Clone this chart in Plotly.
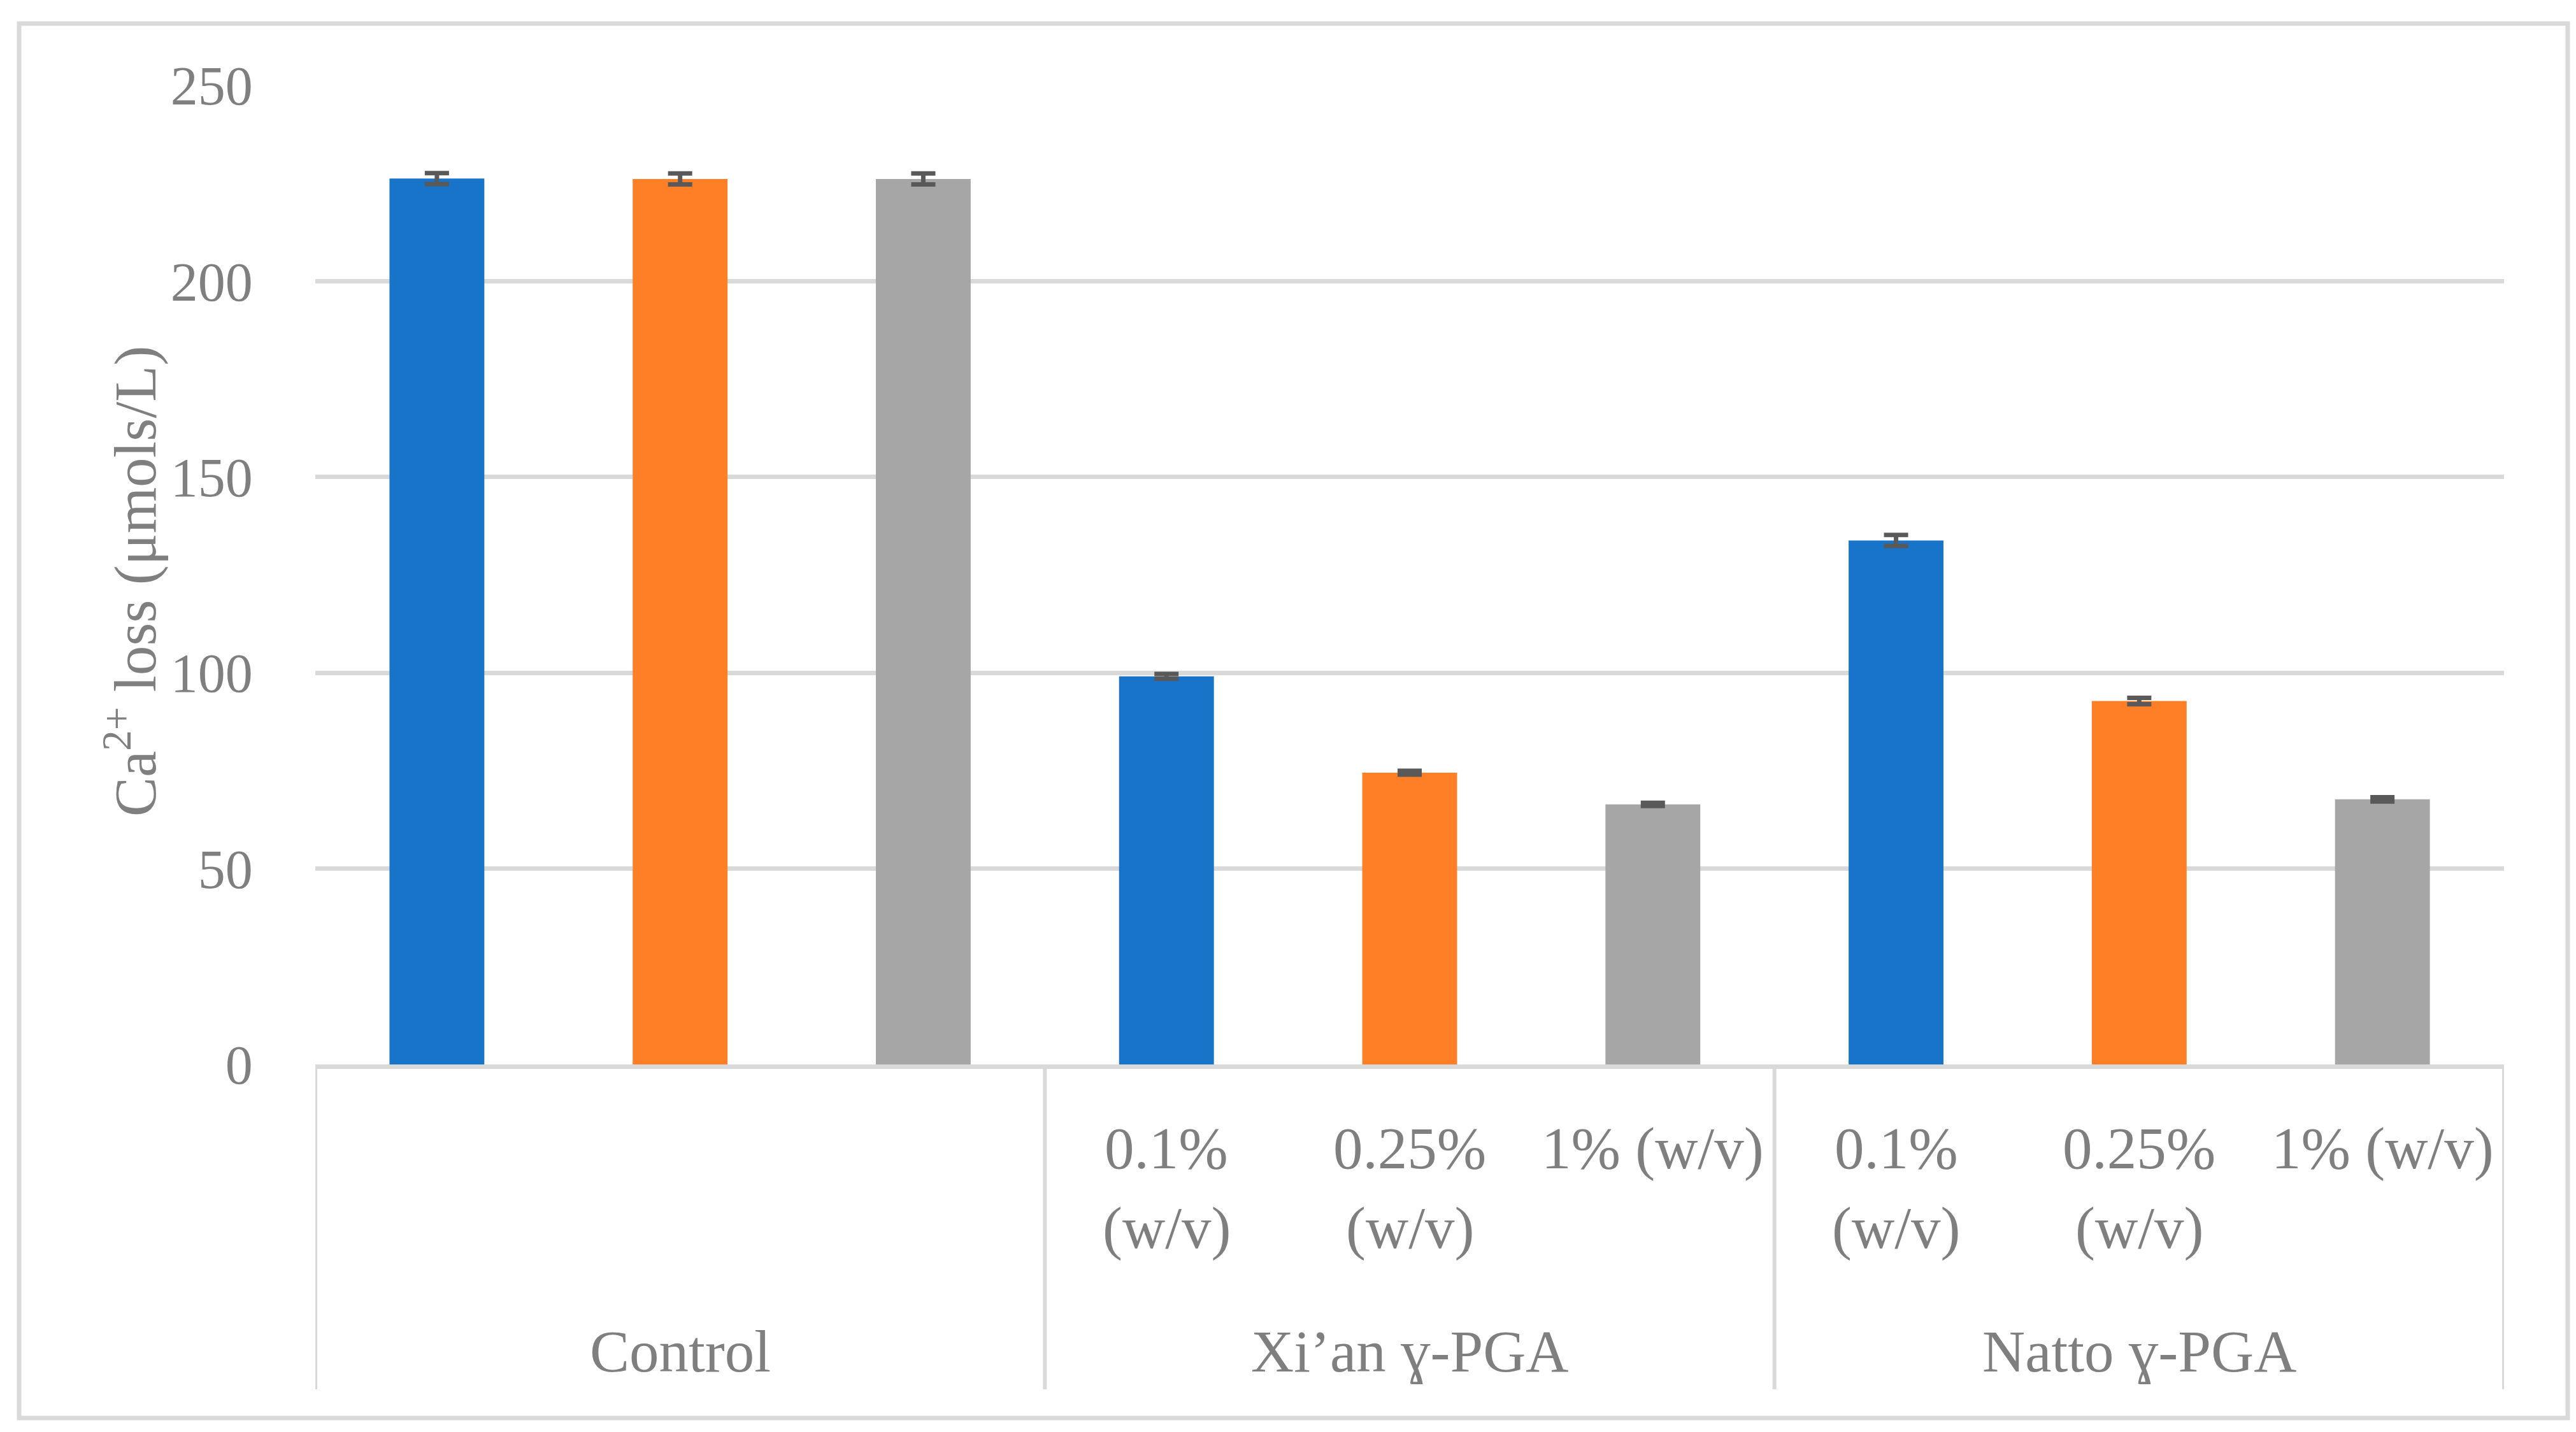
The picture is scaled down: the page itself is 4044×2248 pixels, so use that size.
import plotly.graph_objects as go

# ---- data ----
groups = ["Control", "Xi’an ɣ-PGA", "Natto ɣ-PGA"]
sub_line1 = ["0.1%", "0.25%", "1% (w/v)"]
sub_line2 = ["(w/v)", "(w/v)", ""]
blue_vals = [226.2, 99.1, 133.8]
orange_vals = [226.1, 74.5, 92.8]
gray_vals = [226.1, 66.4, 67.7]
blue_err = [1.4, 0.6, 1.4]
orange_err = [1.4, 0.5, 0.8]
gray_err = [1.4, 0.4, 0.55]
y_ticks = [0, 50, 100, 150, 200, 250]

# ---- layout geometry (pixels) ----
W, H = 4044, 2248
L, R, T, B = 487, 3923, 126, 1663
PW, PH = R - L, B - T

def px(xp):
    return (xp - L) / PW

def py(yp):
    return (B - yp) / PH

FONT = "Liberation Serif"
TXT = "#7F7F7F"
LINE = "#D9D9D9"
FS_TICK = 86
FS = 93

fig = go.Figure()
series = [
    (blue_vals, blue_err, "#1874C9", 0),
    (orange_vals, orange_err, "#FF7F27", 1),
    (gray_vals, gray_err, "#A6A6A6", 2),
]
for vals, errs, color, off in series:
    xs = [g * 3 + off for g in range(len(groups))]
    fig.add_trace(go.Bar(
        x=xs, y=vals, width=0.39,
        marker=dict(color=color, line=dict(width=0)),
        error_y=dict(type="data", array=errs, visible=True,
                     color="#595959", thickness=7, width=19),
        showlegend=False,
    ))

shapes = []
# outer border
shapes.append(dict(type="rect", xref="paper", yref="paper",
                   x0=px(22), x1=px(4023), y0=py(2218), y1=py(29),
                   line=dict(color=LINE, width=7), layer="below"))
# group dividers
for g in range(len(groups) + 1):
    shapes.append(dict(type="line", xref="x", yref="paper",
                       x0=g * 3 - 0.5, x1=g * 3 - 0.5,
                       y0=0, y1=py(2173),
                       line=dict(color=LINE, width=6)))

annotations = []
# sub-category labels (not for Control)
for g in range(1, len(groups)):
    for i in range(3):
        xpos = g * 3 + i
        annotations.append(dict(x=xpos, y=py(1794), xref="x", yref="paper",
                                text=sub_line1[i], showarrow=False,
                                font=dict(family=FONT, size=FS, color=TXT),
                                xanchor="center", yanchor="middle"))
        if sub_line2[i]:
            annotations.append(dict(x=xpos, y=py(1919), xref="x", yref="paper",
                                    text=sub_line2[i], showarrow=False,
                                    font=dict(family=FONT, size=FS, color=TXT),
                                    xanchor="center", yanchor="middle"))
for g, name in enumerate(groups):
    annotations.append(dict(x=g * 3 + 1, y=py(2113), xref="x", yref="paper",
                            text=name, showarrow=False,
                            font=dict(family=FONT, size=FS, color=TXT),
                            xanchor="center", yanchor="middle"))
# y-axis title
annotations.append(dict(x=px(198), y=py(905), xref="paper", yref="paper",
                        text="Ca<sup>2+</sup> loss (μmols/L)", showarrow=False,
                        textangle=-90,
                        font=dict(family=FONT, size=FS, color=TXT),
                        xanchor="center", yanchor="middle"))

fig.update_layout(
    width=W, height=H,
    margin=dict(l=L, r=W - R, t=T, b=H - B, pad=0),
    paper_bgcolor="white", plot_bgcolor="white",
    barmode="overlay",
    shapes=shapes, annotations=annotations,
    xaxis=dict(range=[-0.5, 8.5], showticklabels=False, showgrid=False,
               zeroline=False, showline=True, linecolor=LINE, linewidth=7,
               ticks=""),
    yaxis=dict(range=[0, 250], tickvals=y_ticks, showgrid=True,
               gridcolor=LINE, gridwidth=7, zeroline=False, showline=False,
               ticks="outside", ticklen=80, tickcolor="rgba(0,0,0,0)",
               tickfont=dict(family=FONT, size=FS_TICK, color=TXT)),
)

fig.write_html("out.html")
